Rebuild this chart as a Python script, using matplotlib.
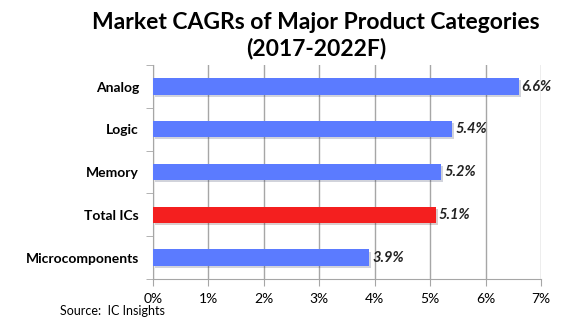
import matplotlib.pyplot as plt
import matplotlib.patheffects as pe
import numpy as np

# --- datos ---
categorias = ['Analog', 'Logic', 'Memory', 'Total ICs', 'Microcomponents']
cagr = [6.6, 5.4, 5.2, 5.1, 3.9]
colores = ['#5b7bff', '#5b7bff', '#5b7bff', '#f41f1f', '#5b7bff']
xticks = [0, 1, 2, 3, 4, 5, 6, 7]

plt.rcParams['font.family'] = ['Lato', 'DejaVu Sans']

fig = plt.figure(figsize=(5.75, 3.24), dpi=100)
ax = fig.add_axes([0.266, 0.139, 0.675, 0.660])

y = np.arange(len(categorias))
bars = ax.barh(y, cagr, height=0.38, color=colores, zorder=3,
               path_effects=[pe.SimplePatchShadow(offset=(1.5, -1.5), alpha=0.2),
                             pe.Normal()])

for yi, v in zip(y, cagr):
    ax.text(v + 0.05, yi, f"{v:.1f}%", va='center', ha='left',
            fontsize=10.5, fontweight='bold', fontstyle='italic', color='#222222')

ax.set_xlim(0, 7)
ax.set_ylim(len(categorias) - 0.5, -0.5)
ax.set_xticks(xticks)
ax.set_xticklabels([f"{t}%" for t in xticks], fontsize=10)
ax.set_yticks(y)
ax.set_yticklabels(categorias, fontsize=10, fontweight='bold')
ax.set_yticks(np.arange(-0.5, len(categorias), 1), minor=True)

ax.grid(axis='x', color='#a6a6a6', linewidth=1, zorder=0)
for s in ['top', 'right']:
    ax.spines[s].set_visible(False)
for s in ['left', 'bottom']:
    ax.spines[s].set_color('#a6a6a6')

ax.tick_params(axis='y', which='major', length=0, pad=10)
ax.tick_params(axis='y', which='minor', length=5, color='#a6a6a6')
ax.tick_params(axis='x', length=5, color='#a6a6a6', pad=5)

fig.text(0.55, 0.89, 'Market CAGRs of Major Product Categories\n(2017-2022F)',
         ha='center', va='center', fontsize=16.5, fontweight='bold', linespacing=1.25)
fig.text(0.104, 0.04, 'Source:  IC Insights', fontsize=9, va='center')

fig.savefig('out.png', dpi=100)
